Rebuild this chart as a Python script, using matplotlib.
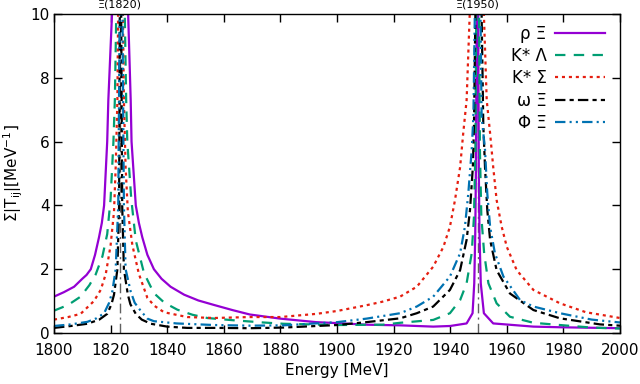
from matplotlib import pyplot as plt
import numpy as np

# values (energy in MeV, sum |T_ij| in MeV^-1)
rho_xi_e = [1800, 1803.5, 1807.1, 1810, 1811.5, 1813, 1814.5, 1815.9, 1816.9, 1817.7,
            1818.8, 1819.2, 1820.5, 1821.8, 1823.3, 1824.8, 1826.2, 1827.1, 1827.4, 1828.9,
            1830, 1831.2, 1833, 1835.3, 1838, 1841.2, 1846, 1851, 1856.5, 1863,
            1869.2, 1880, 1892.7, 1900, 1910.4, 1922.3, 1934, 1940, 1945.8, 1947.9,
            1948.5, 1948.85, 1949.1, 1949.35, 1949.6, 1949.85, 1950.1, 1950.35, 1950.8, 1951.9,
            1955.2, 1969.4, 1978.8, 2000]
rho_xi_v = [1.14, 1.28, 1.45, 1.7, 1.82, 2.0, 2.45, 3.0, 3.45, 4.0,
            6.0, 7.3, 10.0, 14.0, 18.0, 14.0, 10.0, 7.3, 6.0, 4.0,
            3.45, 3.0, 2.45, 2.0, 1.7, 1.45, 1.2, 1.02, 0.88, 0.72,
            0.58, 0.45, 0.34, 0.31, 0.26, 0.24, 0.20, 0.22, 0.30, 0.62,
            1.56, 3.1, 5.2, 10.0, 25.0, 10.0, 5.2, 3.1, 1.56, 0.62,
            0.30, 0.20, 0.18, 0.15]

kst_lam_e = [1800, 1805, 1809.4, 1812.5, 1814.7, 1817.1, 1818.8, 1820.0, 1821.0, 1821.5,
             1822.0, 1823.5, 1825.0, 1825.5, 1825.9, 1827.3, 1828.9, 1831.8, 1835.3, 1839,
             1843.6, 1849, 1854.2, 1863.3, 1873.9, 1881, 1900, 1916.2, 1922.3, 1934,
             1939.9, 1943.5, 1945.8, 1947.6, 1948.4, 1948.9, 1949.2, 1949.7, 1950.2, 1950.5,
             1951.0, 1952.0, 1953.5, 1956.4, 1961.1, 1969.4, 1978.8, 1990, 2000]
kst_lam_v = [0.70, 0.88, 1.14, 1.5, 1.83, 2.4, 3.1, 4.2, 6.0, 7.3,
             10.0, 22.0, 10.0, 7.3, 6.0, 4.2, 2.9, 1.88, 1.25, 0.95,
             0.73, 0.57, 0.47, 0.40, 0.33, 0.29, 0.25, 0.26, 0.32, 0.41,
             0.62, 1.03, 1.56, 2.5, 3.65, 5.74, 10.0, 22.0, 10.0, 5.74,
             3.65, 2.5, 1.56, 0.93, 0.51, 0.32, 0.25, 0.17, 0.14]

kst_sig_e = [1800, 1805, 1809.4, 1814.1, 1816.5, 1818.3, 1820.0, 1821.2, 1821.8, 1822.4,
             1822.65, 1823.5, 1824.35, 1824.7, 1825.3, 1826.1, 1827.7, 1830.0, 1833.0, 1835.5,
             1838.9, 1847.1, 1856.5, 1869.2, 1880, 1892.7, 1900, 1910.4, 1916, 1922.3,
             1928.2, 1934, 1937.6, 1939.9, 1941.7, 1943.5, 1944.6, 1945.8, 1946.9, 1949.4,
             1951.9, 1952.9, 1954.1, 1955.2, 1956.4, 1958.2, 1960, 1963.5, 1969.4, 1978.8,
             1988, 2000]
kst_sig_v = [0.42, 0.50, 0.60, 1.0, 1.35, 1.85, 2.75, 3.8, 5.2, 7.3,
             10.0, 22.0, 10.0, 7.3, 5.2, 3.8, 2.75, 1.85, 1.1, 0.85,
             0.65, 0.50, 0.47, 0.50, 0.50, 0.60, 0.69, 0.87, 0.98, 1.14,
             1.45, 2.08, 2.7, 3.33, 4.17, 5.2, 6.26, 7.3, 10.0, 25.0,
             10.0, 7.3, 6.26, 5.2, 4.17, 3.33, 2.7, 1.97, 1.35, 0.93,
             0.65, 0.47]

omg_xi_e = [1800, 1806, 1811.8, 1816, 1818.8, 1820.3, 1821.2, 1822.4, 1823.0, 1823.25,
            1823.5, 1823.75, 1824.1, 1824.7, 1826.1, 1827, 1828.9, 1831, 1834.2, 1840,
            1847.1, 1857.4, 1869.2, 1881, 1900, 1910.4, 1922.3, 1928.2, 1934, 1939.9,
            1943.5, 1945.8, 1947, 1948, 1948.4, 1948.9, 1950.0, 1951.1, 1951.7, 1952.3,
            1953.1, 1954.1, 1956.4, 1961.1, 1969.4, 1978.8, 1992.9, 2000]
omg_xi_v = [0.16, 0.22, 0.29, 0.42, 0.6, 0.9, 1.2, 2.0, 4.0, 10.0,
            30.0, 10.0, 4.0, 2.0, 1.2, 0.9, 0.6, 0.42, 0.29, 0.2,
            0.16, 0.16, 0.15, 0.17, 0.25, 0.34, 0.46, 0.62, 0.83, 1.35,
            1.97, 2.92, 3.86, 5.2, 6.5, 10.0, 25.0, 10.0, 6.5, 5.2,
            3.86, 2.92, 1.97, 1.24, 0.72, 0.46, 0.27, 0.23]

phi_xi_e = [1800, 1806, 1811.8, 1815, 1817.7, 1819.5, 1820.6, 1821.8, 1822.7, 1823.2,
            1823.7, 1824.2, 1824.7, 1825.3, 1827.1, 1828.5, 1830.6, 1833, 1835.3, 1843.3,
            1856.5, 1869.2, 1881, 1900, 1910.4, 1922.3, 1928.2, 1934, 1939.9, 1943.5,
            1945.2, 1946.4, 1947.6, 1948.2, 1948.7, 1949.7, 1950.7, 1951.1, 1952.3, 1953.1,
            1954.1, 1955.8, 1958.8, 1964.7, 1969.4, 1978.8, 1990, 2000]
phi_xi_v = [0.22, 0.27, 0.35, 0.46, 0.62, 0.95, 1.3, 2.0, 4.0, 10.0,
            25.0, 10.0, 4.0, 2.0, 1.3, 0.95, 0.7, 0.45, 0.37, 0.30,
            0.25, 0.23, 0.24, 0.34, 0.45, 0.62, 0.83, 1.14, 1.77, 2.5,
            3.33, 4.38, 5.74, 6.8, 10.0, 25.0, 10.0, 6.8, 5.74, 4.38,
            3.33, 2.5, 1.77, 1.03, 0.83, 0.62, 0.42, 0.33]

labels = ['ρ Ξ', 'K* Λ', 'K* Σ', 'ω Ξ', 'Φ Ξ']
colors = ['#9400d3', '#009e73', '#e51e10', 'black', '#0072b2']
dashes = [None, (7.5, 6), (2.2, 2.8), (7.5, 3, 3, 3), (7.5, 3, 1.5, 3, 1.5, 3)]

states = [1823.3, 1949.8]
state_labels = ['Ξ(1820)', 'Ξ(1950)']

plt.rcParams['font.family'] = ['DejaVu Sans']
plt.rcParams['mathtext.default'] = 'regular'
plt.rcParams['lines.scale_dashes'] = False

fig = plt.figure(figsize=(6.4, 3.84), dpi=100)
ax = fig.add_axes([54 / 640, 51 / 384, 566 / 640, 319 / 384])

# markierte Resonanzen
for e, name in zip(states, state_labels):
    ax.axvline(e, color='#606060', lw=1.0, dashes=(7, 3, 1.5, 3), zorder=1)
    ax.text(e, 10.15, name, ha='center', va='bottom', fontsize=8, clip_on=False)

series = [(rho_xi_e, rho_xi_v), (kst_lam_e, kst_lam_v), (kst_sig_e, kst_sig_v),
          (omg_xi_e, omg_xi_v), (phi_xi_e, phi_xi_v)]
for (e, v), lab, c, d in zip(series, labels, colors, dashes):
    line, = ax.plot(e, v, color=c, lw=1.6, label=lab, zorder=2)
    if d is not None:
        line.set_dashes(d)

ax.set_xlim(1800, 2000)
ax.set_ylim(0, 10)
ax.set_xticks(np.arange(1800, 2001, 20))
ax.set_yticks(np.arange(0, 11, 2))
ax.tick_params(direction='in', length=6, width=1, top=True, right=True, labelsize=11)
ax.tick_params(axis='x', pad=7)
ax.tick_params(axis='y', pad=3)
for s in ax.spines.values():
    s.set_linewidth(1.0)

ax.set_xlabel('Energy [MeV]', fontsize=11, labelpad=4)
ax.set_ylabel(r'$\Sigma|T_{ij}|$[MeV$^{-1}$]', fontsize=11, labelpad=4)

ax.legend(loc='upper right', bbox_to_anchor=(605 / 640, 1 - 25 / 384), bbox_transform=fig.transFigure,
          frameon=False, markerfirst=False, fontsize=12, handlelength=3.0, handletextpad=0.5,
          labelspacing=0.25, borderpad=0, borderaxespad=0)

fig.savefig('out.png', dpi=100)
